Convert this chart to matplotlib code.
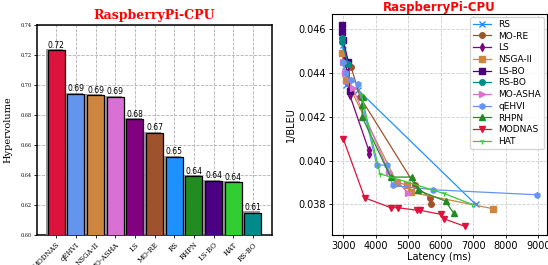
import numpy as np
import matplotlib
matplotlib.use('Agg')
import matplotlib.pyplot as plt
import matplotlib.patheffects as pe

# -----------------------------
# Data: hypervolume per method
# -----------------------------
methods = ['MODNAS', 'qEHVI', 'NSGA-II', 'MO-ASHA', 'LS', 'MO-RE',
           'RS', 'RHPN', 'LS-BO', 'HAT', 'RS-BO']
hypervolume = [0.723, 0.694, 0.693, 0.692, 0.677, 0.668,
               0.652, 0.639, 0.636, 0.635, 0.615]
bar_colors = ['#DC143C', '#6495ED', '#CD853F', '#DA70D6', '#800080', '#A0522D',
              '#1E90FF', '#228B22', '#4B0082', '#32CD32', '#008B8B']

# -----------------------------
# Data: Pareto fronts (latency ms, 1/BLEU)
# -----------------------------
rs_lat = [2980, 3050, 3100, 3440, 7080]
rs_val = [0.0453, 0.0441, 0.04345, 0.04325, 0.0380]

more_lat = [3050, 3240, 3520, 5200, 5660, 5690]
more_val = [0.0444, 0.0443, 0.0429, 0.0389, 0.0383, 0.0380]

ls_lat = [3000, 3060, 3120, 3200, 3780, 3790]
ls_val = [0.0455, 0.0447, 0.0440, 0.0430, 0.0405, 0.0403]

nsga_lat = [2960, 3080, 3250, 4650, 4950, 5100, 7620]
nsga_val = [0.0449, 0.0437, 0.0432, 0.0390, 0.0389, 0.03855, 0.0378]

lsbo_lat = [2950, 2960, 3000, 3160, 3210]
lsbo_val = [0.0462, 0.0459, 0.0455, 0.0445, 0.0432]

rsbo_lat = [2950, 2970, 3150]
rsbo_val = [0.0456, 0.0454, 0.0444]

asha_lat = [2990, 3050, 3300, 4400, 5000]
asha_val = [0.0445, 0.0440, 0.0433, 0.0395, 0.0385]

qehvi_lat = [2990, 3100, 3250, 3450, 4030, 4350, 4520, 5770, 8980]
qehvi_val = [0.0445, 0.0440, 0.0437, 0.0435, 0.0398, 0.0398, 0.03887, 0.03867, 0.03844]

rhpn_lat = [3600, 3590, 3580, 4460, 5130, 5300, 6150, 6400]
rhpn_val = [0.0429, 0.04255, 0.0420, 0.03925, 0.03925, 0.03865, 0.03815, 0.0376]

modnas_lat = [3000, 3660, 4470, 4690, 5280, 5370, 6000, 6090, 6740]
modnas_val = [0.0410, 0.0383, 0.03785, 0.03785, 0.03773, 0.03773, 0.03755, 0.03735, 0.0370]

hat_lat = [3560, 4130, 6100, 6970]
hat_val = [0.0430, 0.0394, 0.0385, 0.0380]

fronts = [
    ('RS', rs_lat, rs_val, '#1E90FF', 'x'),
    ('MO-RE', more_lat, more_val, '#A0522D', 'o'),
    ('LS', ls_lat, ls_val, '#800080', 'd'),
    ('NSGA-II', nsga_lat, nsga_val, '#CD853F', 's'),
    ('LS-BO', lsbo_lat, lsbo_val, '#4B0082', 's'),
    ('RS-BO', rsbo_lat, rsbo_val, '#008B8B', 'o'),
    ('MO-ASHA', asha_lat, asha_val, '#DA70D6', '>'),
    ('qEHVI', qehvi_lat, qehvi_val, '#6495ED', 'h'),
    ('RHPN', rhpn_lat, rhpn_val, '#228B22', '^'),
    ('MODNAS', modnas_lat, modnas_val, '#DC143C', 'v'),
    ('HAT', hat_lat, hat_val, '#32CD32', '1'),
]

fig = plt.figure(figsize=(5.48, 2.65), dpi=100)

# -----------------------------
# Left: hypervolume bars
# -----------------------------
ax1 = fig.add_axes([0.0675, 0.113, 0.429, 0.794])
x = np.arange(len(methods))
bars = ax1.bar(x, hypervolume, width=0.87, color=bar_colors, edgecolor='black',
               linewidth=0.9, zorder=3)
for b in bars:
    b.set_path_effects([pe.SimplePatchShadow(offset=(-1.2, 0.8), shadow_rgbFace='gray', alpha=0.8),
                        pe.Normal()])
for xi, v in zip(x, hypervolume):
    ax1.text(xi, v + 0.0003, f'{v:.2f}', ha='center', va='bottom', fontsize=5.5, zorder=4)

ax1.set_ylim(0.60, 0.74)
ax1.set_yticks(np.arange(0.60, 0.741, 0.02))
ax1.set_yticklabels([f'{t:.2f}' for t in np.arange(0.60, 0.741, 0.02)],
                    fontsize=3.5, family='DejaVu Serif')
ax1.set_xticks(x)
ax1.set_xticklabels(methods, rotation=45, ha='right', rotation_mode='anchor',
                    fontsize=5, family='DejaVu Serif')
ax1.tick_params(axis='both', length=2, width=0.6, pad=2)
ax1.set_ylabel('Hypervolume', fontsize=7, family='DejaVu Serif', labelpad=6)
ax1.set_title('RaspberryPi-CPU', fontsize=9, fontweight='bold', color='red',
              family='DejaVu Serif', pad=4)
ax1.grid(True, linestyle='--', color='#b0b0b0', linewidth=0.6, zorder=0)
for s in ax1.spines.values():
    s.set_linewidth(1.1)

# -----------------------------
# Right: Pareto fronts
# -----------------------------
ax2 = fig.add_axes([0.605, 0.113, 0.393, 0.834])
for name, lat, val, col, mk in fronts:
    ax2.plot(lat, val, color=col, marker=mk, markersize=4, linewidth=0.9,
             label=name)

ax2.set_xlim(2640, 9270)
ax2.set_ylim(0.0366, 0.0467)
ax2.set_xticks([3000, 4000, 5000, 6000, 7000, 8000, 9000])
ax2.set_yticks([0.038, 0.040, 0.042, 0.044, 0.046])
ax2.tick_params(axis='both', labelsize=7, length=2.5, width=0.6, pad=1.5)
ax2.set_xlabel('Latency (ms)', fontsize=7, labelpad=1)
ax2.set_ylabel('1/BLEU', fontsize=7, labelpad=2)
ax2.set_title('RaspberryPi-CPU', fontsize=8.5, fontweight='bold', color='red', pad=2)
ax2.grid(True, linestyle='--', color='#cccccc', linewidth=0.6)
ax2.legend(loc='upper right', fontsize=6.5, handlelength=2.0, labelspacing=0.3,
           borderpad=0.35, handletextpad=0.8, borderaxespad=0.3)

fig.savefig('out.png', dpi=100)
